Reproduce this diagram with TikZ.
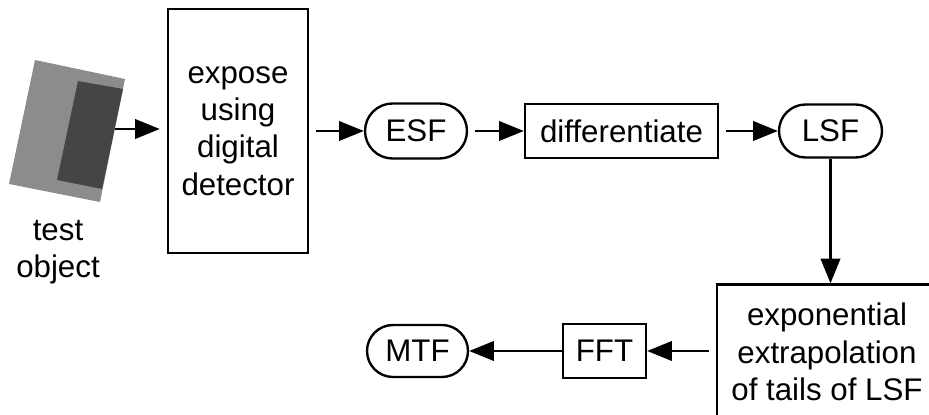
\documentclass[tikz,border=0pt]{standalone}
\usepackage{fontspec}
\setmainfont{Liberation Sans}
\usetikzlibrary{arrows.meta,shapes.misc}
\begin{document}
\begin{tikzpicture}[x=0.02cm,y=-0.02cm,line width=1.35pt,
  every node/.style={font=\fontsize{17.8}{21.2}\selectfont,align=center},
  box/.style={draw,rectangle,inner sep=0pt},
  pill/.style={draw,rounded rectangle,inner sep=0pt},
  arr/.style={-{Triangle[length=14pt,width=11pt]},shorten <=4pt}]
\useasboundingbox (0,0) rectangle (929,415);
% test object
\fill[black!45] (35,60)--(125,79)--(100,202)--(9,184)--cycle;
\fill[black!73] (78,81)--(123,89)--(102,189)--(57,180)--cycle;
\node (obj) at (58,252) {test\\object};
\coordinate (objout) at (115,129);
% top row
\node[box,minimum width=2.8cm,minimum height=4.88cm] (expose) at (238,131) {expose\\using\\digital\\detector};
\node[pill,minimum width=2.04cm,minimum height=1.1cm] (esf) at (416,131) {ESF};
\node[box,minimum width=3.86cm,minimum height=1.08cm] (diff) at (621.5,131) {differentiate};
\node[pill,minimum width=2.06cm,minimum height=1.06cm] (lsf) at (830.5,131) {LSF};
% bottom row
\node[box,minimum width=4.4cm,minimum height=2.7cm] (extrap) at (827,352) {exponential\\extrapolation\\of tails of LSF};
\node[box,minimum width=1.66cm,minimum height=1.08cm] (fft) at (604.5,351) {FFT};
\node[pill,minimum width=2.02cm,minimum height=1.04cm] (mtf) at (417.5,351) {MTF};
% connectors
\draw[arr,shorten <=0pt,shorten >=4pt] (objout) -- (objout -| expose.west);
\draw[arr] (expose.east |- esf.west) -- (esf.west);
\draw[arr] (esf.east) -- (diff.west);
\draw[arr] (diff.east) -- (lsf.west);
\draw[arr,shorten <=0pt] (lsf.south) -- (lsf.south |- extrap.north);
\draw[arr] (extrap.west |- fft.east) -- (fft.east);
\draw[arr,shorten <=0pt] (fft.west) -- (mtf.east);
\end{tikzpicture}
\end{document}
